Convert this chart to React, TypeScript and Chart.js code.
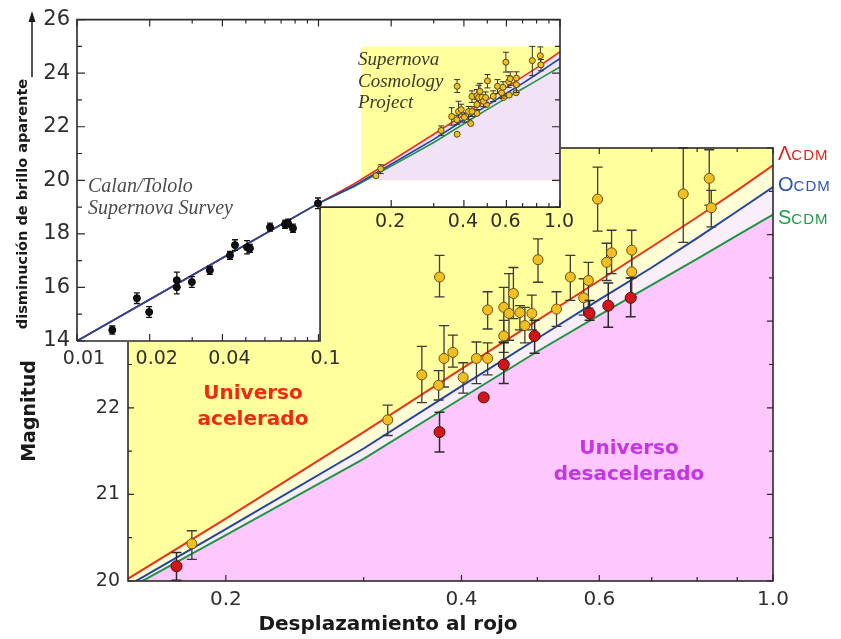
import React, { useEffect, useRef } from 'react';
import { Chart, registerables } from 'chart.js';

Chart.register(...registerables);

const W = 841;
const H = 639;

// ---------------- DATA ----------------
// Cosmological model curves (apparent magnitude vs redshift)
const modelZ = [0.14, 0.2, 0.3, 0.4, 0.5, 0.6, 0.7, 0.8, 0.9, 1.0];
const lambdaCDM = [19.86, 20.72, 21.72, 22.45, 23.01, 23.47, 23.86, 24.2, 24.51, 24.8];
const openCDM = [19.79, 20.6, 21.53, 22.25, 22.8, 23.25, 23.62, 23.96, 24.27, 24.55];
const standardCDM = [19.76, 20.53, 21.41, 22.11, 22.65, 23.07, 23.42, 23.72, 23.99, 24.23];

// Low-redshift part of the curves (inset, the three models coincide)
const lowModelZ = [0.01, 0.02, 0.04, 0.1];
const lowModelMag = [14.0, 15.55, 17.1, 19.14];

// Supernova Cosmology Project – yellow points
const scpZ = [0.181, 0.322, 0.356, 0.375, 0.374, 0.38, 0.39, 0.402, 0.418, 0.432, 0.432, 0.453, 0.453, 0.46, 0.466, 0.475, 0.482, 0.492, 0.501, 0.529, 0.551, 0.573, 0.581, 0.597, 0.613, 0.622, 0.66, 0.66, 0.768, 0.829, 0.834];
const scpMag = [20.43, 21.86, 22.38, 23.51, 22.26, 22.57, 22.64, 22.35, 22.57, 22.57, 23.13, 23.16, 22.83, 23.09, 23.32, 23.1, 22.95, 23.09, 23.71, 23.14, 23.51, 23.27, 23.47, 24.41, 23.68, 23.79, 23.82, 23.57, 24.47, 24.65, 24.31];
const scpHi = [20.58, 22.03, 22.71, 23.76, 22.43, 22.95, 22.84, 22.52, 22.76, 22.75, 23.34, 23.39, 23.01, 23.55, 23.62, 23.18, 23.16, 23.3, 23.95, 23.34, 23.76, 23.49, 23.68, 24.78, 23.9, 24.05, 24.05, 23.82, 25.0, 24.98, 24.51];
const scpLo = [20.25, 21.68, 22.06, 23.28, 22.09, 22.24, 22.47, 22.17, 22.28, 22.38, 22.91, 22.76, 22.64, 22.78, 23.03, 22.9, 22.75, 22.9, 23.45, 22.94, 23.24, 23.07, 23.15, 24.04, 23.47, 23.55, 23.5, 23.28, 23.91, 24.34, 24.09];

// Red points
const redZ = [0.173, 0.375, 0.427, 0.453, 0.496, 0.583, 0.616, 0.658];
const redMag = [20.17, 21.72, 22.12, 22.5, 22.83, 23.09, 23.18, 23.27];
const redHi = [20.33, 21.95, null, 22.75, 23.01, 23.24, 23.44, 23.5];
const redLo = [20.01, 21.49, null, 22.28, 22.63, 23.01, 22.93, 23.05];

// Calan/Tololo Supernova Survey (inset, black points)
const ctZ = [0.014, 0.0177, 0.0199, 0.0259, 0.0259, 0.0299, 0.0355, 0.043, 0.0451, 0.0506, 0.052, 0.063, 0.0727, 0.0748, 0.0784, 0.0995];
const ctMag = [14.41, 15.6, 15.08, 16.27, 16.01, 16.2, 16.64, 17.2, 17.58, 17.5, 17.46, 18.25, 18.36, 18.4, 18.21, 19.14];
const ctErr = [0.15, 0.2, 0.2, 0.3, 0.25, 0.2, 0.15, 0.15, 0.2, 0.25, 0.15, 0.15, 0.15, 0.15, 0.15, 0.2];

// Axes
const mainZRange = [0.15, 1.0];
const mainMagRange = [20, 25];
const mainXTicks = [0.2, 0.3, 0.4, 0.5, 0.6, 0.7, 0.8, 0.9, 1.0];
const mainXLabels = ['0.2', '', '0.4', '', '0.6', '', '', '', '1.0'];
const mainYTicks = [20, 20.5, 21, 21.5, 22, 22.5, 23, 23.5, 24, 24.5, 25];
const mainYLabels = ['20', '', '21', '', '22', '', '', '', '', '', ''];

const insetZRange = [0.01, 1.0];
const insetMagRange = [14, 26];
const insetXTicks = [0.01, 0.02, 0.03, 0.04, 0.05, 0.06, 0.07, 0.08, 0.09, 0.1, 0.2, 0.3, 0.4, 0.5, 0.6, 0.7, 0.8, 0.9, 1.0];
const insetXLabels = ['0.01', '0.02', '', '0.04', '', '', '', '', '', '0.1', '0.2', '', '0.4', '', '0.6', '', '', '', '1.0'];
const insetYTicks = [14, 15, 16, 17, 18, 19, 20, 21, 22, 23, 24, 25, 26];
const insetYLabels = ['14', '', '16', '', '18', '', '20', '', '22', '', '24', '', '26'];
// corner of the inset cut by the main panel (z, magnitude)
const insetCut = [0.1015, 19.0];

// ---------------- STYLE ----------------
const COL = {
  red: '#e8341f',
  blue: '#2343a6',
  green: '#1f9444',
  yellow: '#ffff9e',
  paleYellow: '#ffffd6',
  palePink: '#fbeefb',
  pink: '#fdc8fd',
  lavender: '#f2e2f5',
  ptYellow: '#f2bf22',
  ptYellowEdge: '#6b5210',
  ptRed: '#d0161a',
  ptRedEdge: '#5a0808',
  axis: '#2a2a2a',
  tick: '#2e2e2e',
};
const SANS = "'DejaVu Sans', Verdana, sans-serif";
const SERIF = "'Liberation Serif', 'Times New Roman', serif";

const toXY = (xs: number[], ys: number[]) => xs.map((x, i) => ({ x, y: ys[i] }));

const errorBarPlugin = {
  id: 'errorBars',
  beforeDatasetDraw(chart: any, args: any) {
    const ds = chart.data.datasets[args.index];
    if (!ds.errHi) return;
    const xs = chart.scales.x;
    const ys = chart.scales.y;
    const a = chart.chartArea;
    const ctx = chart.ctx;
    ctx.save();
    ctx.beginPath();
    ctx.rect(a.left, a.top - 1, a.right - a.left, a.bottom - a.top + 2);
    ctx.clip();
    ctx.strokeStyle = ds.errColor;
    ctx.lineWidth = ds.errWidth;
    const cap = ds.errCap;
    ds.data.forEach((p: any, i: number) => {
      const hi = ds.errHi[i];
      const lo = ds.errLo[i];
      if (hi == null || lo == null) return;
      const px = xs.getPixelForValue(p.x);
      const y1 = ys.getPixelForValue(hi);
      const y2 = ys.getPixelForValue(lo);
      ctx.beginPath();
      ctx.moveTo(px, y1);
      ctx.lineTo(px, y2);
      ctx.moveTo(px - cap, y1);
      ctx.lineTo(px + cap, y1);
      ctx.moveTo(px - cap, y2);
      ctx.lineTo(px + cap, y2);
      ctx.stroke();
    });
    ctx.restore();
  },
};

const mainFramePlugin = {
  id: 'mainFrame',
  afterDatasetsDraw(chart: any) {
    const { ctx, chartArea: a } = chart;
    const xs = chart.scales.x;
    const ys = chart.scales.y;
    ctx.save();
    ctx.strokeStyle = COL.axis;
    ctx.lineWidth = 1.6;
    ctx.strokeRect(a.left, a.top, a.right - a.left, a.bottom - a.top);
    ctx.lineWidth = 1.2;
    ctx.beginPath();
    mainXTicks.forEach((v, i) => {
      const px = xs.getPixelForValue(v);
      const len = mainXLabels[i] ? 6 : 4;
      ctx.moveTo(px, a.bottom);
      ctx.lineTo(px, a.bottom - len);
      ctx.moveTo(px, a.top);
      ctx.lineTo(px, a.top + len);
    });
    mainYTicks.forEach((v) => {
      const py = ys.getPixelForValue(v);
      const len = Number.isInteger(v) ? 6 : 4;
      ctx.moveTo(a.left, py);
      ctx.lineTo(a.left + len, py);
      ctx.moveTo(a.right, py);
      ctx.lineTo(a.right - len, py);
    });
    ctx.stroke();
    ctx.restore();
  },
};

function mainConfig(): any {
  return {
    type: 'line',
    data: {
      datasets: [
        { label: 'ΛCDM', data: toXY(modelZ, lambdaCDM), borderColor: COL.red, borderWidth: 2, pointRadius: 0, fill: 'end', backgroundColor: COL.yellow, order: 2 },
        { label: 'OCDM', data: toXY(modelZ, openCDM), borderColor: COL.blue, borderWidth: 2, pointRadius: 0, fill: '-1', backgroundColor: COL.paleYellow, order: 3 },
        { label: 'SCDM', data: toXY(modelZ, standardCDM), borderColor: COL.green, borderWidth: 2, pointRadius: 0, fill: '-1', backgroundColor: COL.palePink, order: 4 },
        { label: 'SCDM-below', data: toXY(modelZ, standardCDM), borderColor: 'rgba(0,0,0,0)', borderWidth: 0, pointRadius: 0, fill: 'start', backgroundColor: COL.pink, order: 5 },
        {
          label: 'SCP', data: toXY(scpZ, scpMag), showLine: false, pointRadius: 5, pointBorderWidth: 1,
          pointBackgroundColor: COL.ptYellow, pointBorderColor: COL.ptYellowEdge, order: 1,
          errHi: scpHi, errLo: scpLo, errColor: '#3a3a3a', errWidth: 1.3, errCap: 5,
        },
        {
          label: 'red', data: toXY(redZ, redMag), showLine: false, pointRadius: 5.5, pointBorderWidth: 1,
          pointBackgroundColor: COL.ptRed, pointBorderColor: COL.ptRedEdge, order: 0,
          errHi: redHi, errLo: redLo, errColor: '#2a2a2a', errWidth: 1.5, errCap: 5,
        },
      ],
    },
    options: {
      responsive: false,
      animation: false,
      devicePixelRatio: 1,
      layout: { padding: { left: 68, right: 68, top: 148, bottom: 18 } },
      plugins: {
        legend: { display: false },
        tooltip: { enabled: false },
        filler: { drawTime: 'beforeDatasetsDraw' },
      },
      scales: {
        x: {
          type: 'logarithmic', min: mainZRange[0], max: mainZRange[1],
          afterBuildTicks: (s: any) => { s.ticks = mainXTicks.map((v) => ({ value: v })); },
          afterFit: (s: any) => { s.height = 40; },
          grid: { display: false, drawTicks: false },
          border: { display: false },
          ticks: {
            autoSkip: false, maxRotation: 0, minRotation: 0, padding: 7, color: COL.tick,
            font: { family: SANS, size: 20 },
            callback: (_v: any, i: number) => mainXLabels[i],
          },
        },
        y: {
          type: 'linear', min: mainMagRange[0], max: mainMagRange[1],
          afterBuildTicks: (s: any) => { s.ticks = mainYTicks.map((v) => ({ value: v })); },
          afterFit: (s: any) => { s.width = 60; },
          grid: { display: false, drawTicks: false },
          border: { display: false },
          ticks: {
            autoSkip: false, padding: 8, color: COL.tick,
            font: { family: SANS, size: 19 },
            callback: (_v: any, i: number) => mainYLabels[i],
          },
        },
      },
    },
    plugins: [errorBarPlugin, mainFramePlugin],
  };
}

const insetPlugin = {
  id: 'insetDecor',
  beforeDraw(chart: any) {
    const { ctx, chartArea: a } = chart;
    const xs = chart.scales.x;
    const ys = chart.scales.y;
    const xc = xs.getPixelForValue(insetCut[0]);
    const yc = ys.getPixelForValue(insetCut[1]);
    ctx.save();
    // white background of the inset (L shape)
    ctx.fillStyle = '#ffffff';
    ctx.beginPath();
    ctx.moveTo(0, 0);
    ctx.lineTo(a.right + 1, 0);
    ctx.lineTo(a.right + 1, yc);
    ctx.lineTo(xc, yc);
    ctx.lineTo(xc, a.bottom + 1);
    ctx.lineTo(0, a.bottom + 1);
    ctx.closePath();
    ctx.fill();
    // highlighted region (range of the main panel)
    const x0 = xs.getPixelForValue(mainZRange[0]);
    const x1 = xs.getPixelForValue(mainZRange[1]);
    const yT = ys.getPixelForValue(mainMagRange[1]);
    const yB = ys.getPixelForValue(mainMagRange[0]);
    ctx.fillStyle = COL.yellow;
    ctx.fillRect(x0, yT, x1 - x0, yB - yT);
    ctx.beginPath();
    ctx.rect(x0, yT, x1 - x0, yB - yT);
    ctx.clip();
    ctx.beginPath();
    modelZ.forEach((z, i) => {
      const px = xs.getPixelForValue(z);
      const py = ys.getPixelForValue(lambdaCDM[i]);
      if (i === 0) ctx.moveTo(px, py); else ctx.lineTo(px, py);
    });
    ctx.lineTo(x1, yB + 5);
    ctx.lineTo(xs.getPixelForValue(modelZ[0]), yB + 5);
    ctx.closePath();
    ctx.fillStyle = COL.lavender;
    ctx.fill();
    ctx.restore();
  },
  afterDraw(chart: any) {
    const { ctx, chartArea: a } = chart;
    const xs = chart.scales.x;
    const ys = chart.scales.y;
    const xc = xs.getPixelForValue(insetCut[0]);
    const yc = ys.getPixelForValue(insetCut[1]);
    ctx.save();
    ctx.strokeStyle = COL.axis;
    ctx.lineWidth = 1.6;
    ctx.beginPath();
    ctx.moveTo(a.left, a.bottom);
    ctx.lineTo(a.left, a.top);
    ctx.lineTo(a.right, a.top);
    ctx.lineTo(a.right, yc);
    ctx.lineTo(xc, yc);
    ctx.lineTo(xc, a.bottom);
    ctx.lineTo(a.left, a.bottom);
    ctx.stroke();
    // ticks
    ctx.lineWidth = 1.2;
    ctx.beginPath();
    insetXTicks.forEach((v, i) => {
      const px = xs.getPixelForValue(v);
      const len = insetXLabels[i] ? 7 : 4;
      const base = v < insetCut[0] ? a.bottom : yc;
      ctx.moveTo(px, base);
      ctx.lineTo(px, base - len);
      ctx.moveTo(px, a.top);
      ctx.lineTo(px, a.top + len);
    });
    insetYTicks.forEach((v, i) => {
      const py = ys.getPixelForValue(v);
      const len = insetYLabels[i] ? 8 : 5;
      ctx.moveTo(a.left, py);
      ctx.lineTo(a.left + len, py);
      if (v >= insetCut[1]) {
        ctx.moveTo(a.right, py);
        ctx.lineTo(a.right - len, py);
      }
    });
    ctx.stroke();
    // x tick labels
    ctx.fillStyle = COL.tick;
    ctx.font = `19px ${SANS}`;
    ctx.textAlign = 'center';
    ctx.textBaseline = 'middle';
    insetXTicks.forEach((v, i) => {
      if (!insetXLabels[i]) return;
      const px = xs.getPixelForValue(v);
      const lower = v < insetCut[0];
      const base = lower ? a.bottom : yc;
      ctx.fillText(insetXLabels[i], px + (lower ? 7 : -1), base + (lower ? 18 : 15));
    });
    // arrow next to the y title
    ctx.strokeStyle = '#1a1a1a';
    ctx.fillStyle = '#1a1a1a';
    ctx.lineWidth = 1.5;
    ctx.beginPath();
    ctx.moveTo(32, 77);
    ctx.lineTo(32, 20);
    ctx.stroke();
    ctx.beginPath();
    ctx.moveTo(32, 11);
    ctx.lineTo(28.5, 22);
    ctx.lineTo(35.5, 22);
    ctx.closePath();
    ctx.fill();
    ctx.restore();
  },
};

function insetConfig(): any {
  const insetModel = (mags: number[]) => toXY(lowModelZ.concat(modelZ), lowModelMag.concat(mags));
  return {
    type: 'line',
    data: {
      datasets: [
        { label: 'SCDM', data: insetModel(standardCDM), borderColor: COL.green, borderWidth: 1.6, pointRadius: 0, order: 5 },
        { label: 'ΛCDM', data: insetModel(lambdaCDM), borderColor: COL.red, borderWidth: 1.6, pointRadius: 0, order: 4 },
        { label: 'OCDM', data: insetModel(openCDM), borderColor: COL.blue, borderWidth: 1.6, pointRadius: 0, order: 3 },
        {
          label: 'Calan/Tololo', data: toXY(ctZ, ctMag), showLine: false, pointRadius: 3.5, pointBorderWidth: 1,
          pointBackgroundColor: '#111', pointBorderColor: '#000', order: 1,
          errHi: ctMag.map((m, i) => m + ctErr[i]), errLo: ctMag.map((m, i) => m - ctErr[i]),
          errColor: '#111', errWidth: 1.3, errCap: 3,
        },
        {
          label: 'SCP', data: toXY(scpZ, scpMag), showLine: false, pointRadius: 3, pointBorderWidth: 1,
          pointBackgroundColor: COL.ptYellow, pointBorderColor: '#5a4a10', order: 2,
          errHi: scpHi, errLo: scpLo, errColor: '#333', errWidth: 1, errCap: 3,
        },
        {
          label: 'SCP-red', data: toXY(redZ, redMag), showLine: false, pointRadius: 3, pointBorderWidth: 1,
          pointBackgroundColor: COL.ptYellow, pointBorderColor: '#5a4a10', order: 2,
        },
      ],
    },
    options: {
      responsive: false,
      animation: false,
      devicePixelRatio: 1,
      layout: { padding: { left: 30, right: 281, top: 19, bottom: 278 } },
      plugins: {
        legend: { display: false },
        tooltip: { enabled: false },
      },
      scales: {
        x: {
          type: 'logarithmic', min: insetZRange[0], max: insetZRange[1],
          afterBuildTicks: (s: any) => { s.ticks = insetXTicks.map((v) => ({ value: v })); },
          afterFit: (s: any) => { s.height = 20; },
          grid: { display: false, drawTicks: false },
          border: { display: false },
          ticks: { display: false },
        },
        y: {
          type: 'linear', min: insetMagRange[0], max: insetMagRange[1],
          afterBuildTicks: (s: any) => { s.ticks = insetYTicks.map((v) => ({ value: v })); },
          afterFit: (s: any) => { s.width = 47; },
          grid: { display: false, drawTicks: false },
          border: { display: false },
          ticks: {
            autoSkip: false, padding: 7, color: COL.tick,
            font: { family: SANS, size: 21 },
            callback: (_v: any, i: number) => insetYLabels[i],
          },
        },
      },
    },
    plugins: [insetPlugin, errorBarPlugin],
  };
}

type TextProps = {
  x: number; y: number; text: string; size: number; color?: string;
  bold?: boolean; italic?: boolean; family?: string; rotate?: boolean; align?: 'center' | 'left';
};

function Txt({ x, y, text, size, color = '#1a1a1a', bold, italic, family = SANS, rotate, align = 'center' }: TextProps) {
  const tx = align === 'center' ? '-50%' : '0';
  return (
    <div
      style={{
        position: 'absolute', left: x, top: y, whiteSpace: 'nowrap', lineHeight: 1,
        fontFamily: family, fontSize: size, fontWeight: bold ? 'bold' : 'normal',
        fontStyle: italic ? 'italic' : 'normal', color,
        transform: `translate(${tx}, -50%)${rotate ? ' rotate(-90deg)' : ''}`,
        transformOrigin: rotate ? 'center' : undefined,
      }}
    >
      {text}
    </div>
  );
}

function LegendEntry({ y, big, small, color }: { y: number; big: string; small: string; color: string }) {
  return (
    <div style={{ position: 'absolute', left: 778, top: y, transform: 'translateY(-50%)', whiteSpace: 'nowrap', color, fontFamily: "'Liberation Sans', Arial, sans-serif", lineHeight: 1 }}>
      <span style={{ fontSize: 20 }}>{big}</span>
      <span style={{ fontSize: 15, letterSpacing: 1 }}>{small}</span>
    </div>
  );
}

export default function App() {
  const mainRef = useRef<HTMLCanvasElement>(null);
  const insetRef = useRef<HTMLCanvasElement>(null);

  useEffect(() => {
    const main = new Chart(mainRef.current as HTMLCanvasElement, mainConfig());
    const inset = new Chart(insetRef.current as HTMLCanvasElement, insetConfig());
    return () => {
      main.destroy();
      inset.destroy();
    };
  }, []);

  return (
    <div style={{ position: 'absolute', left: 0, top: 0, width: W, height: H, background: '#fff', overflow: 'hidden' }}>
      <canvas ref={mainRef} width={W} height={H} style={{ position: 'absolute', left: 0, top: 0, width: W, height: H }} />
      <canvas ref={insetRef} width={W} height={H} style={{ position: 'absolute', left: 0, top: 0, width: W, height: H }} />

      <Txt x={22} y={204} text="disminución de brillo aparente" size={14.5} bold rotate />
      <Txt x={28} y={411} text="Magnitud" size={19} bold rotate />
      <Txt x={388} y={623} text="Desplazamiento al rojo" size={20} bold />

      <Txt x={88} y={185} text="Calan/Tololo" size={20} italic family={SERIF} color="#4a4a4a" align="left" />
      <Txt x={88} y={207} text="Supernova Survey" size={20} italic family={SERIF} color="#4a4a4a" align="left" />

      <Txt x={358} y={58} text="Supernova" size={19} italic family={SERIF} color="#3b3b2a" align="left" />
      <Txt x={358} y={80} text="Cosmology" size={19} italic family={SERIF} color="#3b3b2a" align="left" />
      <Txt x={358} y={101} text="Project" size={19} italic family={SERIF} color="#3b3b2a" align="left" />

      <Txt x={253} y={392} text="Universo" size={20} bold color="#ee2a12" />
      <Txt x={253} y={418} text="acelerado" size={20} bold color="#ee2a12" />
      <Txt x={629} y={447} text="Universo" size={20} bold color="#c435e6" />
      <Txt x={629} y={473} text="desacelerado" size={20} bold color="#c435e6" />

      <LegendEntry y={153} big="Λ" small="CDM" color="#d8261e" />
      <LegendEntry y={184} big="O" small="CDM" color="#2a55b0" />
      <LegendEntry y={217} big="S" small="CDM" color="#1f9a48" />
    </div>
  );
}
